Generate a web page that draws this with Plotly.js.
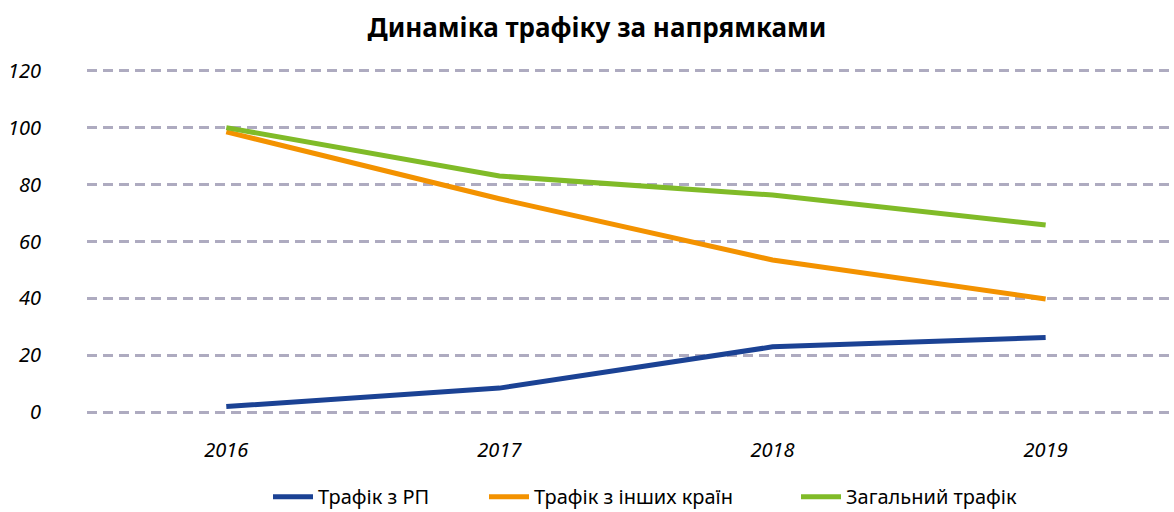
<!DOCTYPE html>
<html>
<head>
<meta charset="utf-8">
<script src="https://cdn.plot.ly/plotly-3.0.1.min.js"></script>
<style>html,body{margin:0;padding:0;background:#fff;}#chart{width:1174px;height:512px;}</style>
</head>
<body>
<div id="chart"></div>
<script>
const years = ['2016', '2017', '2018', '2019'];
const seriesNames = ['Трафік з РП', 'Трафік з інших країн', 'Загальний трафік'];
const trafficRP = [2, 8.5, 23, 26.3];
const trafficOther = [98.5, 75, 53.5, 39.8];
const trafficTotal = [100, 83, 76.3, 65.8];
const colors = ['#1b4294', '#f39200', '#80bb28'];

const font = "'Noto Sans', 'Open Sans', sans-serif";
const legendIds = ['legend', 'legend2', 'legend3'];
const legendX = [268, 484, 796];
const traces = [trafficRP, trafficOther, trafficTotal].map((vals, i) => ({
  type: 'scatter', mode: 'lines', x: years, y: vals, name: seriesNames[i],
  line: {color: colors[i], width: 5}, hoverinfo: 'skip', legend: legendIds[i]
}));

const layout = {
  width: 1174, height: 512,
  margin: {l: 87, r: 0, t: 65, b: 94},
  paper_bgcolor: '#fff', plot_bgcolor: '#fff',
  title: {text: '<b>Динаміка трафіку за напрямками</b>', x: 0.5085, xref: 'container', xanchor: 'center',
          y: 0.945, yref: 'container', yanchor: 'middle',
          font: {family: font, size: 26, color: '#000'}},
  xaxis: {type: 'category', range: [-0.51, 3.47], showgrid: false, zeroline: false, showline: false,
          ticks: '', ticklabelstandoff: 18,
          tickfont: {family: font, size: 20, color: '#000', style: 'italic'}},
  yaxis: {range: [-2, 122], tickvals: [0, 20, 40, 60, 80, 100, 120], showgrid: true,
          gridcolor: '#aeabc0', gridwidth: 3, griddash: '10px,6px', zeroline: false, showline: false,
          ticks: '', ticklabelstandoff: 45,
          tickfont: {family: font, size: 20, color: '#000', style: 'italic'}},
  showlegend: true
};
legendIds.forEach((id, i) => {
  layout[id] = {orientation: 'h', x: legendX[i] / 1174, xref: 'container', xanchor: 'left',
                y: 0.03, yref: 'container', yanchor: 'middle', bgcolor: 'rgba(0,0,0,0)',
                font: {family: font, size: 20, color: '#000'}, itemwidth: 40};
});

Plotly.newPlot('chart', traces, layout, {staticPlot: true, displayModeBar: false});
</script>
</body>
</html>
